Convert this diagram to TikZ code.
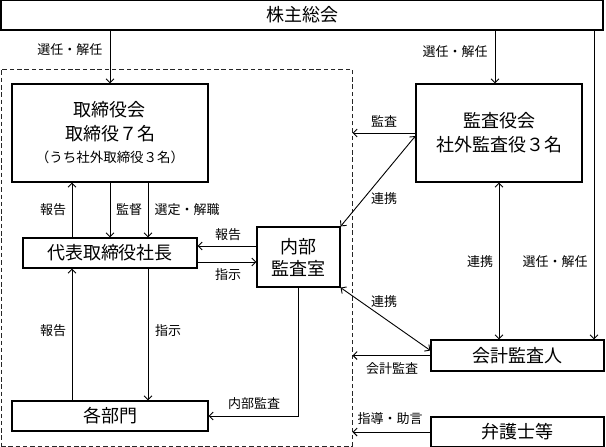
\documentclass[tikz,border=0pt]{standalone}
\usepackage{fontspec}
\setmainfont{Noto Sans CJK JP}
\usetikzlibrary{arrows.meta,calc}
\begin{document}
\begin{tikzpicture}[x=1pt,y=-1pt,
  box/.style={draw, line width=1.2pt, inner sep=0pt, font=\fontsize{18}{24}\selectfont, align=center},
  lab/.style={inner sep=0pt, font=\fontsize{13}{15}\selectfont},
  arr/.style={line width=0.9pt, -{Straight Barb[length=4pt,width=8pt]}},
  darr/.style={line width=0.9pt, {Straight Barb[length=4pt,width=8pt]}-{Straight Barb[length=4pt,width=8pt]}},
  ]
\useasboundingbox (0,0) rectangle (606,447);
% boxes
\node[box, minimum width=602pt, minimum height=30pt] (sh) at (302,15) {株主総会};
\node[draw=black!85, dash pattern=on 4.5pt off 2.8pt, line width=1pt, minimum width=351pt, minimum height=377pt, inner sep=0pt] (grp) at (176.5,257.5) {};
\node[box, minimum width=196pt, minimum height=98pt] (tb) at (110,133) {取締役会\\取締役７名\\[-2pt]{\fontsize{13.5}{16}\selectfont （うち社外取締役３名）}};
\node[box, minimum width=166pt, minimum height=98pt] (kan) at (499,133) {監査役会\\社外監査役３名};
\node[box, minimum width=174pt, minimum height=30pt] (dai) at (110,253) {代表取締役社長};
\node[box, minimum width=83pt, minimum height=60pt, font=\fontsize{18}{22}\selectfont] (nai) at (298.5,257) {内部\\監査室};
\node[box, minimum width=196pt, minimum height=30pt] (kaku) at (110,416) {各部門};
\node[box, minimum width=173pt, minimum height=31pt] (kai) at (517.5,355.5) {会計監査人};
\node[box, minimum width=173pt, minimum height=30pt] (ben) at (517.5,432) {弁護士等};
% labels
\node[lab] (l1) at (70,50) {選任・解任};
\node[lab] (l2) at (455,52) {選任・解任};
\node[lab] (l3) at (555,262) {選任・解任};
\node[lab] (l4) at (480,262) {連携};
\node[lab] (l5) at (384,121) {監査};
\node[lab] (l6) at (384,199) {連携};
\node[lab] (l7) at (384,302) {連携};
\node[lab] (l8) at (392,369) {会計監査};
\node[lab] (l9) at (390,419) {指導・助言};
\node[lab] (l10) at (53,210) {報告};
\node[lab] (l11) at (129,210) {監督};
\node[lab] (l12) at (187,210) {選定・解職};
\node[lab] (l13) at (228,235) {報告};
\node[lab] (l14) at (228,275) {指示};
\node[lab] (l15) at (53,331) {報告};
\node[lab] (l16) at (168,331) {指示};
\node[lab] (l17) at (254,404) {内部監査};
% helper coordinates
\coordinate (r) at (594,200);
\coordinate (k1) at ([xshift=-4pt]kan.north);
\coordinate (kw) at ([yshift=-3pt]kan.west);
\coordinate (kiw) at ([yshift=5pt]kai.west);
\coordinate (dl) at ([xshift=-38pt]dai.north);
\coordinate (dr) at ([xshift=38pt]dai.south);
\coordinate (tr) at ([xshift=38pt]tb.south);
\coordinate (kl) at ([xshift=-38pt]kaku.north);
\coordinate (n1) at ([yshift=11pt]nai.west);
\coordinate (n2) at ([yshift=-5pt]nai.west);
% connectors
\draw[arr] (sh.south -| tb.north) -- (tb.north);
\draw[arr] (k1 |- sh.south) -- (k1);
\draw[arr] (sh.south -| r) -- (r |- kai.north);
\draw[darr] (kan.south) -- (kan.south |- kai.north);
\draw[arr] (kan.west) -- (kan.west -| grp.east);
\draw[darr] (kw) -- (nai.north east);
\draw[darr] (nai.south east) -- (kiw);
\draw[arr] (kai.west) -- (kai.west -| grp.east);
\draw[arr] (ben.west) -- (ben.west -| grp.east);
\draw[arr] (dl) -- (dl |- tb.south);
\draw[arr] (tb.south) -- (tb.south |- dai.north);
\draw[arr] (tr) -- (tr |- dai.north);
\draw[arr] (n1) -- (n1 -| dai.east);
\draw[arr] (n2 -| dai.east) -- (n2);
\draw[arr] (kl) -- (kl |- dai.south);
\draw[arr] (dr) -- (dr |- kaku.north);
\draw[arr] (nai.south) -- (nai.south |- kaku.east) -- (kaku.east);
\end{tikzpicture}
\end{document}
